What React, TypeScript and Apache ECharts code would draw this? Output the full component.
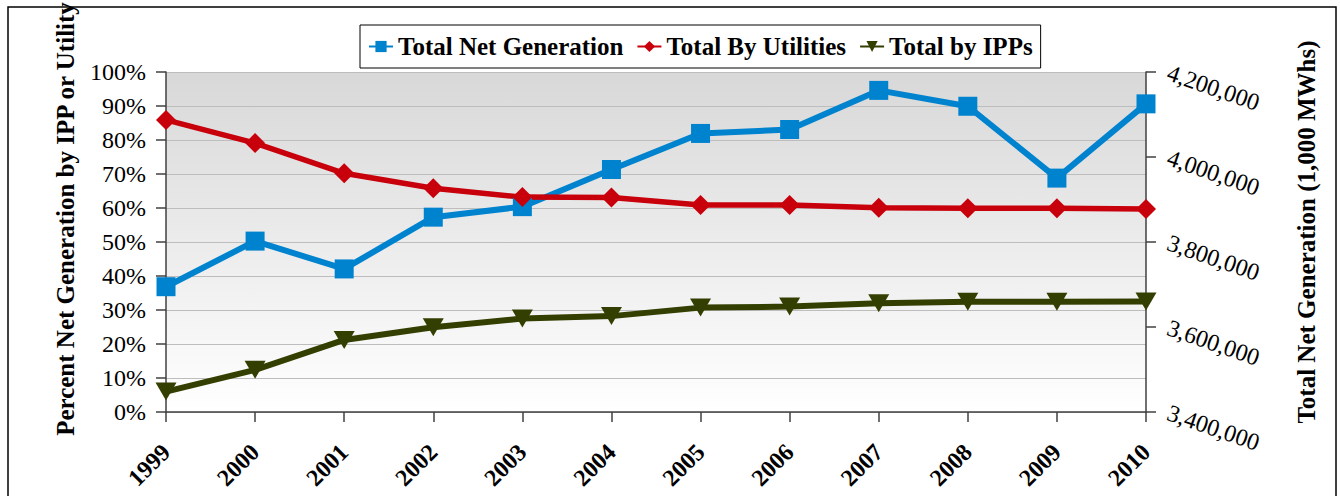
import React, { useEffect, useRef } from "react";
import * as echarts from "echarts";

const years = ["1999", "2000", "2001", "2002", "2003", "2004", "2005", "2006", "2007", "2008", "2009", "2010"];
const totalNetGeneration = [3694810, 3802105, 3736644, 3858452, 3883185, 3970555, 4055423, 4064702, 4156745, 4119388, 3950331, 4125060];
const totalByUtilities = [85.9, 79.1, 70.2, 65.8, 63.2, 63.1, 60.9, 60.9, 60.1, 59.9, 59.9, 59.7];
const totalByIPPs = [6.0, 12.4, 21.2, 24.9, 27.5, 28.2, 30.7, 31.0, 32.0, 32.4, 32.4, 32.5];

const seriesNames = ["Total Net Generation", "Total By Utilities", "Total by IPPs"];
const leftAxisName = "Percent Net Generation by IPP or Utility";
const rightAxisName = "Total Net Generation (1,000 MWhs)";

const FONT = "'Liberation Serif', 'Times New Roman', serif";

export default function App() {
  const ref = useRef<HTMLDivElement>(null);
  useEffect(() => {
    document.body.style.margin = "0";
    const chart = echarts.init(ref.current!, undefined, { renderer: "svg" });
    const axisLineStyle = { color: "#404040", width: 1.5 };
    chart.setOption({
      animation: false,
      textStyle: { fontFamily: FONT },
      graphic: [
        {
          type: "rect",
          shape: { x: 8, y: 7, width: 1328, height: 520 },
          style: { fill: "none", stroke: "#000", lineWidth: 1.5 },
          z: -10,
        },
        {
          type: "text",
          x: 65,
          y: 219,
          rotation: Math.PI / 2,
          style: {
            text: leftAxisName,
            font: `bold 25px ${FONT}`,
            fill: "#000",
            align: "center",
            verticalAlign: "middle",
          },
        },
        {
          type: "text",
          x: 1306,
          y: 232,
          rotation: Math.PI / 2,
          style: {
            text: rightAxisName,
            font: `bold 25px ${FONT}`,
            fill: "#000",
            align: "center",
            verticalAlign: "middle",
          },
        },
      ],
      legend: {
        data: seriesNames,
        left: 360,
        top: 25,
        padding: [9, 8, 9, 8],
        itemGap: 13,
        itemWidth: 24,
        itemHeight: 14,
        borderColor: "#000",
        borderWidth: 1,
        backgroundColor: "#fff",
        textStyle: { fontFamily: FONT, fontSize: 25, fontWeight: "bold", color: "#000" },
      },
      grid: {
        left: 166,
        top: 72,
        right: 194,
        bottom: 84,
        show: true,
        borderWidth: 0,
        backgroundColor: new echarts.graphic.LinearGradient(0, 0, 0, 1, [
          { offset: 0, color: "#d8d8d8" },
          { offset: 1, color: "#ffffff" },
        ]),
      },
      xAxis: {
        type: "category",
        data: years,
        boundaryGap: false,
        axisLine: { lineStyle: axisLineStyle },
        axisTick: { show: true, length: 10, alignWithLabel: true, lineStyle: axisLineStyle },
        axisLabel: {
          rotate: 45,
          margin: 36,
          interval: 0,
          fontFamily: FONT,
          fontSize: 24,
          fontWeight: "bold",
          color: "#000",
        },
        splitLine: { show: false },
      },
      yAxis: [
        {
          type: "value",
          min: 0,
          max: 100,
          interval: 10,
          position: "left",
          axisLine: { show: true, lineStyle: axisLineStyle },
          axisTick: { show: true, length: 10, lineStyle: axisLineStyle },
          axisLabel: {
            formatter: "{value}%",
            margin: 20,
            fontFamily: FONT,
            fontSize: 24,
            color: "#000",
          },
          splitLine: { show: true, lineStyle: { color: "#bdbdbd", width: 1.2 } },
        },
        {
          type: "value",
          min: 3400000,
          max: 4200000,
          interval: 200000,
          position: "right",
          axisLine: { show: true, lineStyle: axisLineStyle },
          axisTick: { show: true, length: 10, lineStyle: axisLineStyle },
          axisLabel: {
            formatter: (v: number) => v.toLocaleString("en-US"),
            rotate: -19,
            margin: 22,
            fontFamily: FONT,
            fontSize: 24,
            color: "#000",
          },
          splitLine: { show: false },
        },
      ],
      series: [
        {
          name: seriesNames[0],
          type: "line",
          yAxisIndex: 1,
          data: totalNetGeneration,
          symbol: "rect",
          symbolSize: 19,
          lineStyle: { color: "#0083cf", width: 6 },
          itemStyle: { color: "#0083cf" },
        },
        {
          name: seriesNames[1],
          type: "line",
          yAxisIndex: 0,
          data: totalByUtilities,
          symbol: "diamond",
          symbolSize: [20, 20],
          lineStyle: { color: "#c8000b", width: 5.5 },
          itemStyle: { color: "#c8000b" },
        },
        {
          name: seriesNames[2],
          type: "line",
          yAxisIndex: 0,
          data: totalByIPPs,
          symbol: "triangle",
          symbolRotate: 180,
          symbolSize: [21, 18],
          lineStyle: { color: "#333f00", width: 6 },
          itemStyle: { color: "#333f00" },
        },
      ],
    });
    return () => chart.dispose();
  }, []);
  return <div ref={ref} style={{ width: 1340, height: 496 }} />;
}
